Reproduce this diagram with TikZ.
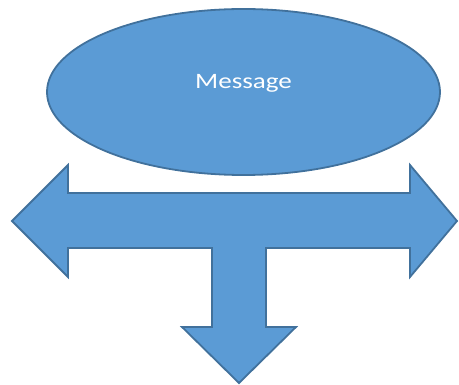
\documentclass[tikz,border=0pt]{standalone}
\usepackage{fontspec}
\setmainfont{Carlito}
\usetikzlibrary{shapes.geometric}

\definecolor{shapefill}{HTML}{5B9BD5}
\definecolor{shapeline}{HTML}{41719C}

\begin{document}
\begin{tikzpicture}[
    x=1pt, y=-1pt,
    blob/.style={fill=shapefill, draw=shapeline, line width=1.8pt},
    msgtxt/.style={text=white, font=\fontsize{22}{26}\selectfont, inner sep=0pt}
]
\useasboundingbox (0,0) rectangle (459,385);
\node[blob, ellipse, inner sep=0pt, minimum width=393pt, minimum height=166pt] (msg) at (243.5,92) {};
\node[msgtxt] (msgtext) at ([yshift=9pt]msg.center) {\scalebox{1.23}[1]{Message}};
% three-way arrow
\draw[blob] (12,221) -- (68,165) -- (68,193) -- (410,193) -- (410,165) -- (457,221)
    -- (410,277) -- (410,248) -- (266,248) -- (266,327) -- (296,327) -- (239,383)
    -- (182,327) -- (212,327) -- (212,248) -- (68,248) -- (68,277) -- cycle;
\end{tikzpicture}
\end{document}
